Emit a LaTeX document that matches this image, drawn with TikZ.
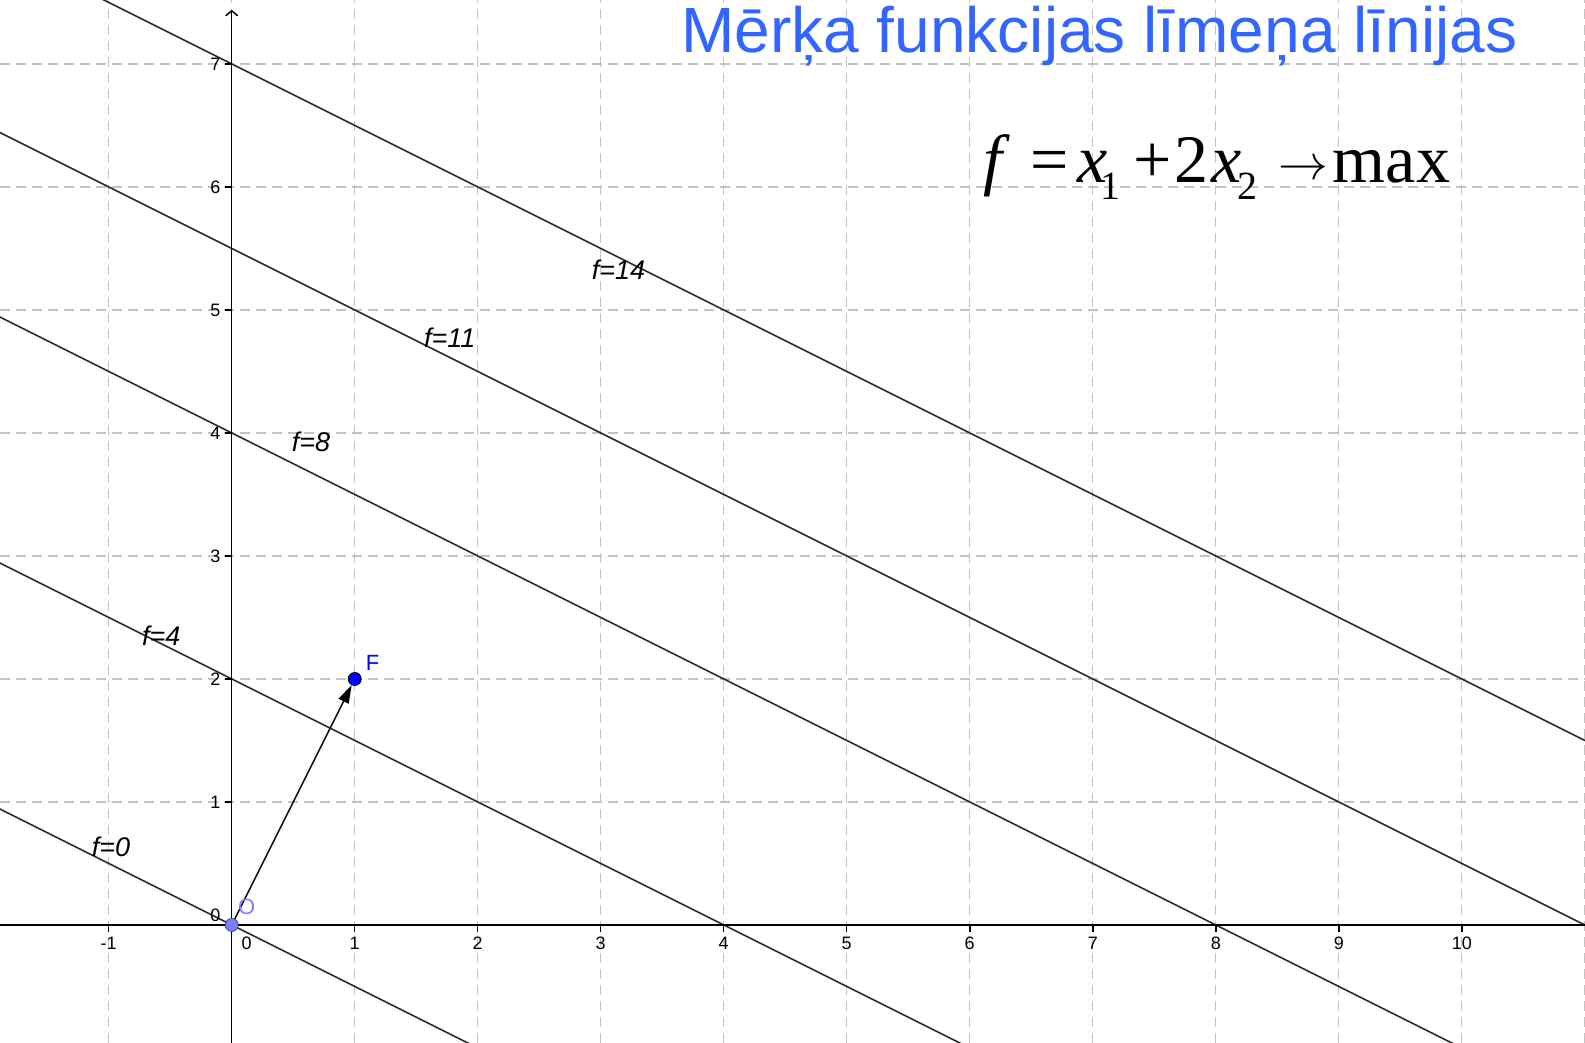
\documentclass[tikz,border=0pt]{standalone}
\usepackage{fontspec}
\setmainfont{Liberation Sans}
\newfontfamily\tnr{Liberation Serif}
\usetikzlibrary{arrows.meta}
\definecolor{titleblue}{RGB}{51,102,255}
\definecolor{gridgray}{RGB}{195,195,195}
\definecolor{ptO}{RGB}{125,125,255}
\definecolor{ptF}{RGB}{0,0,255}
\definecolor{lvl}{RGB}{40,40,40}
\begin{document}
\begin{tikzpicture}[x=61.5pt,y=61.5pt,
  gridline/.style={gridgray, line width=0.6pt, dash pattern=on 5pt off 3pt},
  axisline/.style={black, line width=0.75pt},
  levelline/.style={lvl, line width=0.8pt},
  ticklabel/.style={font=\fontsize{9}{10}\selectfont, inner sep=0pt},
  flabel/.style={font=\itshape\fontsize{13.5}{15}\selectfont, inner sep=0pt, anchor=base},
  ptlabel/.style={font=\fontsize{11}{12}\selectfont, inner sep=0pt},
  ]
\useasboundingbox (-1.884,-0.959) rectangle (11.002,7.520);
\fill[white] (-1.884,-0.959) rectangle (11.002,7.520);
\begin{scope}
\clip (-1.884,-0.959) rectangle (11.002,7.520);
\foreach \i in {-1,...,11} \draw[gridline] (\i,-0.959) -- (\i,7.52);
\foreach \j in {1,...,7} \draw[gridline] (-1.884,\j) -- (11.002,\j);
\foreach \c in {0,4,8,11,14} \draw[levelline] (-2,{(\c+2)/2}) -- (12,{(\c-12)/2});
\end{scope}
% axes
\draw[axisline] (-1.884,0) -- (11.002,0);
\draw[axisline,-{Straight Barb[length=2.5pt,width=6pt]}] (0,-0.959) -- (0,7.44);
\foreach \i in {-1,1,2,...,10} {
  \draw[axisline] (\i,0) -- (\i,-0.057);
  \node[ticklabel,anchor=base] at (\i,-0.203) {\i};
}
\node[ticklabel,anchor=base] at (0.122,-0.203) {0};
\foreach \j in {1,...,7} {
  \draw[axisline] (0,\j) -- (-0.057,\j);
  \node[ticklabel,anchor=base east] at (-0.09,{\j-0.053}) {\j};
}
\node[ticklabel,anchor=base east] at (-0.09,0.028) {0};
% level labels
\node[flabel] (l0) at (-0.982,0.553) {f=0};
\node[flabel] (l4) at (-0.573,2.276) {f=4};
\node[flabel] (l8) at (0.644,3.848) {f=8};
\node[flabel] (l11) at (1.772,4.691) {f=11};
\node[flabel] (l14) at (3.144,5.244) {f=14};
% points and vector
\node[circle, fill=ptO, draw=ptO!55!black, line width=0.4pt, inner sep=0pt, minimum size=6.5pt] (O) at (0,0) {};
\node[circle, fill=ptF, draw=black, line width=0.4pt, inner sep=0pt, minimum size=6.5pt] (F) at (1,2) {};
\draw[line width=0.75pt, -{Triangle[length=9pt,width=5.5pt]}] (O) -- (F);
\node[ptlabel, text=ptO] (Olab) at (0.122,0.146) {O};
\node[ptlabel, text=ptF] (Flab) at (1.146,2.130) {F};
% title and formula
\node[anchor=base west, text=titleblue, font=\fontsize{32}{38}\selectfont, inner sep=0pt] (title) at (3.652,7.089) {Mērķa funkcijas līmeņa līnijas};
\node[anchor=base west, inner sep=0pt, font=\tnr\fontsize{34}{40}\selectfont] (formula) at (6.214,6.033) {\makebox[0pt]{\textit{f}}\kern26.5pt\makebox[0pt]{=}\kern21.75pt\makebox[0pt]{\textit{x}}\kern9pt\makebox[0pt]{\raisebox{-8.5pt}{\fontsize{20}{24}\selectfont 1}}\kern21pt\makebox[0pt]{+}\kern19.25pt\makebox[0pt]{2}\kern17.5pt\makebox[0pt]{\textit{x}}\kern10.5pt\makebox[0pt]{\raisebox{-8.5pt}{\fontsize{20}{24}\selectfont 2}}\kern28pt\makebox[0pt]{\raisebox{1.5pt}{\fontsize{31}{33}\selectfont$\rightarrow$}}\kern44pt\makebox[0pt]{max}};
\end{tikzpicture}
\end{document}
